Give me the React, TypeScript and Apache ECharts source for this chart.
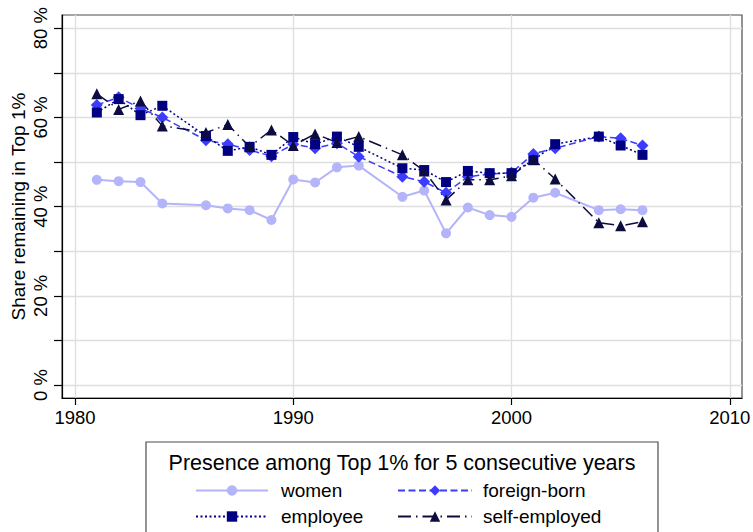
import React, { useEffect, useRef } from "react";
import * as echarts from "echarts";

const years = [1981, 1982, 1983, 1984, 1986, 1987, 1988, 1989, 1990, 1991, 1992, 1993, 1995, 1996, 1997, 1998, 1999, 2000, 2001, 2002, 2004, 2005, 2006];
const women = [46.0, 45.7, 45.5, 40.7, 40.3, 39.6, 39.2, 37.0, 46.1, 45.4, 48.8, 49.2, 42.2, 43.6, 34.0, 39.8, 38.1, 37.7, 42.0, 43.1, 39.2, 39.4, 39.2];
const foreignBorn = [62.8, 64.5, 62.0, 60.0, 54.9, 54.0, 52.7, 51.3, 54.0, 53.1, 54.2, 51.2, 46.7, 45.6, 43.1, 46.7, 47.3, 47.6, 51.8, 53.1, 55.7, 55.3, 53.7];
const employee = [61.1, 64.1, 60.5, 62.6, 55.8, 52.5, 53.4, 51.6, 55.6, 54.0, 55.7, 53.4, 48.6, 48.2, 45.5, 48.0, 47.5, 47.5, 50.4, 54.0, 55.7, 53.7, 51.6];
const selfEmployed = [65.3, 61.8, 63.7, 58.1, 56.6, 58.4, 53.4, 57.2, 53.7, 56.3, 54.4, 55.7, 51.6, 48.0, 41.5, 46.0, 46.0, 46.9, 50.6, 46.2, 36.4, 35.7, 36.6];

const xTicks = [1980, 1990, 2000, 2010];
const yTicks = [0, 10, 20, 30, 40, 50, 60, 70, 80];
const yLabels = [0, 20, 40, 60, 80];

const seriesNames = ["women", "foreign-born", "employee", "self-employed"];
const legendTitle = "Presence among Top 1% for 5 consecutive years";
const yTitle = "Share remaining in Top 1%";

const FONT = "'Liberation Sans', Arial, Helvetica, sans-serif";

export default function App() {
  const ref = useRef<HTMLDivElement>(null);
  useEffect(() => {
    if (!ref.current) return;
    const chart = echarts.init(ref.current, undefined, { renderer: "svg" });
    const pair = (vals: number[]) => years.map((y, i) => [y, vals[i]]);
    const mk = (name: string, vals: number[], color: string, symbol: string, size: number, width: number, type: any) => ({
      name,
      type: "line",
      data: pair(vals),
      symbol,
      symbolSize: size,
      showSymbol: true,
      lineStyle: { color, width, type },
      itemStyle: { color, borderWidth: 0 },
      emphasis: { disabled: true },
    });
    const option: any = {
      animation: false,
      textStyle: { fontFamily: FONT },
      grid: { left: 62, right: 11, top: 15, bottom: 134, show: true, borderColor: "#4d4d4d", borderWidth: 1.2, containLabel: false, outerBoundsMode: "none" },
      xAxis: {
        type: "value",
        min: 1979.404,
        max: 2010.56,
        axisLine: { show: true, onZero: false, lineStyle: { color: "#000", width: 1.2 } },
        axisTick: { show: true, length: 7, customValues: xTicks, lineStyle: { color: "#000", width: 1.2 } },
        axisLabel: { customValues: xTicks, margin: 10, fontSize: 18.5, color: "#000", fontFamily: FONT, formatter: (v: number) => String(v) },
        splitLine: { show: true, lineStyle: { color: "#dedede", width: 1.3 } },
      },
      yAxis: {
        type: "value",
        min: -2.91,
        max: 82.96,
        axisLine: { show: true, onZero: false, lineStyle: { color: "#000", width: 1.2 } },
        axisTick: { show: true, length: 8, customValues: yTicks, lineStyle: { color: "#000", width: 1.2 } },
        axisLabel: { customValues: yLabels, rotate: 90, margin: 12, fontSize: 18.5, color: "#000", fontFamily: FONT, formatter: (v: number) => v + " %" },
        splitLine: { show: true, lineStyle: { color: "#dedede", width: 1.3 } },
        name: yTitle,
        nameLocation: "middle",
        nameRotate: 90,
        nameGap: 34,
        nameMoveOverlap: false,
        nameTextStyle: { fontSize: 19, color: "#000", fontFamily: FONT },
      },
      legend: [
        {
          data: [seriesNames[0], seriesNames[2]],
          orient: "vertical",
          left: 195,
          top: 481,
          padding: 0,
          itemWidth: 72,
          itemHeight: 13,
          itemGap: 7,
          selectedMode: false,
          textStyle: { fontSize: 19, color: "#000", fontFamily: FONT, padding: [0, 0, 0, 8] },
        },
        {
          data: [seriesNames[1], seriesNames[3]],
          orient: "vertical",
          left: 397,
          top: 481,
          padding: 0,
          itemWidth: 74,
          itemHeight: 13,
          itemGap: 7,
          selectedMode: false,
          textStyle: { fontSize: 19, color: "#000", fontFamily: FONT, padding: [0, 0, 0, 6] },
        },
      ],
      graphic: [
        { type: "rect", shape: { x: 146, y: 442, width: 512, height: 120 }, style: { fill: "none", stroke: "#4d4d4d", lineWidth: 1.2 }, silent: true },
        { type: "text", x: 402, y: 463, style: { text: legendTitle, fontSize: 21.5, fontFamily: FONT, fill: "#000", align: "center", verticalAlign: "middle" }, silent: true },
      ],
      series: [
        mk(seriesNames[0], women, "#b4b4fa", "circle", 10, 2, "solid"),
        mk(seriesNames[1], foreignBorn, "#3c3cff", "diamond", 12, 1.5, [7, 3.5]),
        mk(seriesNames[2], employee, "#000080", "rect", 10, 1.5, [2, 2.5]),
        mk(seriesNames[3], selfEmployed, "#0c0c40", "triangle", 11, 1.5, [13, 5, 1.5, 5]),
      ],
    };
    chart.setOption(option);
    return () => chart.dispose();
  }, []);
  return <div ref={ref} style={{ width: 753, height: 532, position: "absolute", left: 0, top: 0 }} />;
}
